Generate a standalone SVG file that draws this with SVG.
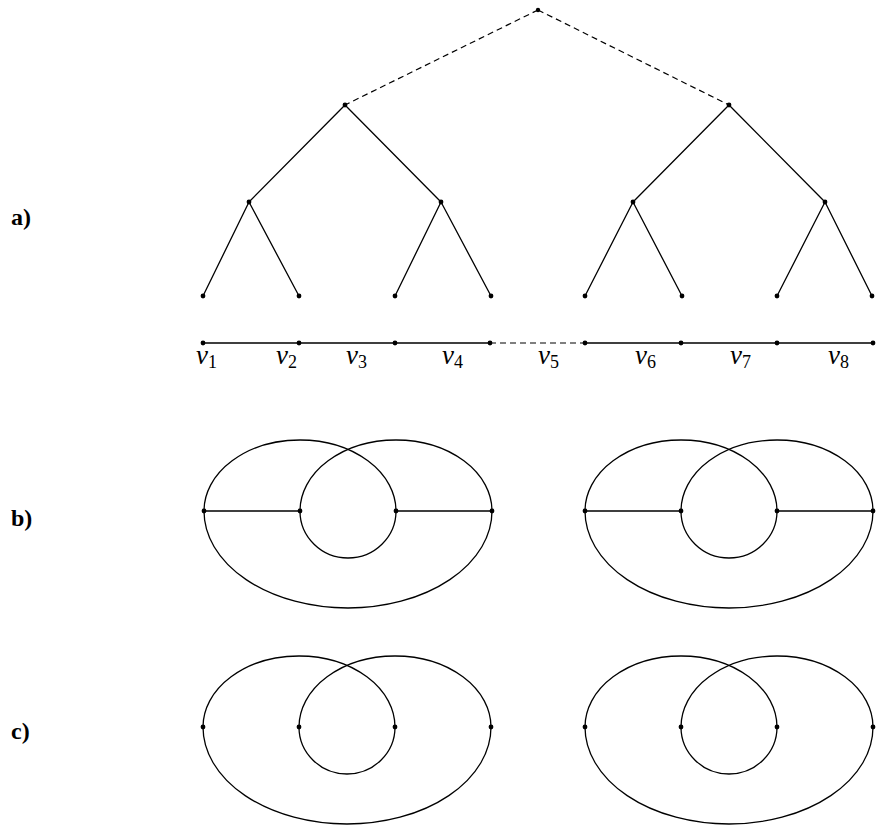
<svg xmlns="http://www.w3.org/2000/svg" width="882" height="829" viewBox="0 0 882 829">
<style>
.e{stroke:#000;stroke-width:1.3;fill:none}
.d{stroke:#000;stroke-width:1.2;fill:none;stroke-dasharray:6 4}
.n{fill:#000}
</style>
<rect width="882" height="829" fill="#fff"/>
<g id="labels" font-family="Liberation Serif, Times New Roman, serif" font-weight="bold" font-size="24">
<text x="11" y="225">a)</text>
<text x="11" y="526">b)</text>
<text x="11" y="739">c)</text>
</g>
<g id="connectors">
<path class="d" d="M538,10 L345,105 M538,10 L729,105"/>
<path class="e" d="M345,105 L249,202 M345,105 L441,202 M729,105 L633,202 M729,105 L825,202"/>
<path class="e" d="M249,202 L203,296 M249,202 L299,296 M441,202 L395,296 M441,202 L491,296 M633,202 L585,296 M633,202 L682,296 M825,202 L777,296 M825,202 L872,296"/>
<path class="e" d="M203,343 L490,343 M585,343 L873,343"/>
<path class="d" d="M490,343 L585,343"/>
</g>
<g id="tree-nodes" class="n">
<circle id="root" cx="538" cy="10" r="2.2"/>
<circle cx="345" cy="105" r="2.4"/><circle cx="729" cy="105" r="2.4"/>
<circle cx="249" cy="202" r="2.4"/><circle cx="441" cy="202" r="2.4"/><circle cx="633" cy="202" r="2.4"/><circle cx="825" cy="202" r="2.4"/>
<circle cx="203" cy="296" r="2.4"/><circle cx="299" cy="296" r="2.4"/><circle cx="395" cy="296" r="2.4"/><circle cx="491" cy="296" r="2.4"/>
<circle cx="585" cy="296" r="2.4"/><circle cx="682" cy="296" r="2.4"/><circle cx="777" cy="296" r="2.4"/><circle cx="872" cy="296" r="2.4"/>
</g>
<g id="path-nodes" class="n">
<circle cx="203" cy="343" r="2.4"/><circle cx="299" cy="343" r="2.4"/><circle cx="395" cy="343" r="2.4"/><circle cx="490" cy="343" r="2.4"/>
<circle cx="585" cy="343" r="2.4"/><circle cx="681" cy="343" r="2.4"/><circle cx="777" cy="343" r="2.4"/><circle cx="873" cy="343" r="2.4"/>
</g>
<g id="vlabels" font-family="Liberation Serif, Times New Roman, serif">
<text x="196" y="364"><tspan font-style="italic" font-size="27">v</tspan><tspan font-size="18" dy="4">1</tspan></text>
<text x="276" y="364"><tspan font-style="italic" font-size="27">v</tspan><tspan font-size="18" dy="4">2</tspan></text>
<text x="346" y="364"><tspan font-style="italic" font-size="27">v</tspan><tspan font-size="18" dy="4">3</tspan></text>
<text x="442" y="364"><tspan font-style="italic" font-size="27">v</tspan><tspan font-size="18" dy="4">4</tspan></text>
<text x="538" y="364"><tspan font-style="italic" font-size="27">v</tspan><tspan font-size="18" dy="4">5</tspan></text>
<text x="635" y="364"><tspan font-style="italic" font-size="27">v</tspan><tspan font-size="18" dy="4">6</tspan></text>
<text x="730" y="364"><tspan font-style="italic" font-size="27">v</tspan><tspan font-size="18" dy="4">7</tspan></text>
<text x="828" y="364"><tspan font-style="italic" font-size="27">v</tspan><tspan font-size="18" dy="4">8</tspan></text>
</g>
<defs>
<g id="fig">
<path class="e" d="M204,511 A96,71 0 0 1 396,511"/>
<path class="e" d="M300,511 A96,71 0 0 1 492,511"/>
<path class="e" d="M204,511 A144,97 0 0 0 492,511"/>
<path class="e" d="M300,511 A48,47 0 0 0 396,511"/>
<circle class="n" cx="204" cy="511" r="2.4"/><circle class="n" cx="300" cy="511" r="2.4"/>
<circle class="n" cx="396" cy="511" r="2.4"/><circle class="n" cx="492" cy="511" r="2.4"/>
</g>
<path id="bars" class="e" d="M204,511 L300,511 M396,511 L492,511"/>
</defs>
<g id="b-left"><use href="#fig"/><use href="#bars"/></g>
<g id="b-right" transform="translate(381,0)"><use href="#fig"/><use href="#bars"/></g>
<g id="c-left" transform="translate(-1,216)"><use href="#fig"/></g>
<g id="c-right" transform="translate(381,216)"><use href="#fig"/></g>
</svg>
